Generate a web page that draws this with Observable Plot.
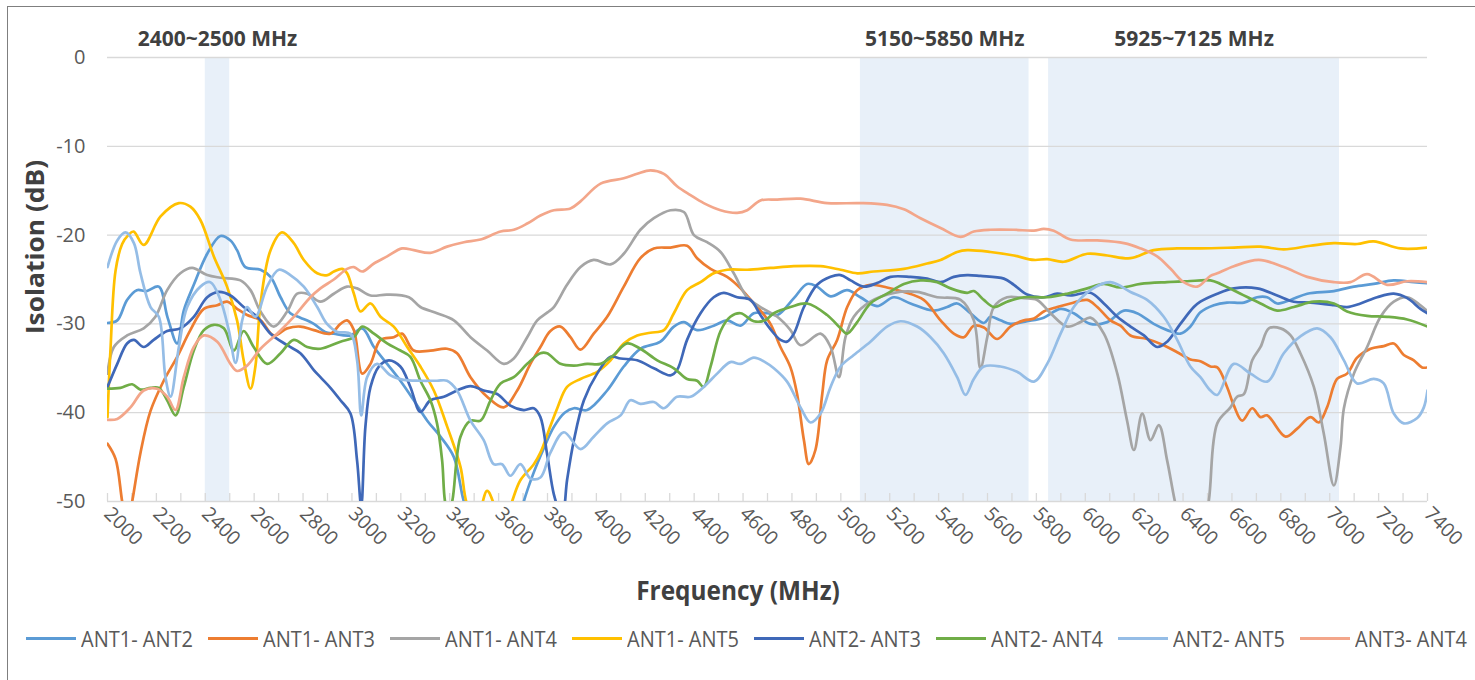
<!DOCTYPE html>
<html><head><meta charset="utf-8">
<script src="https://cdn.jsdelivr.net/npm/d3@7"></script>
<script src="https://cdn.jsdelivr.net/npm/@observablehq/plot@0.6"></script>
<style>
body{margin:0;background:#fff;}
#wrap{position:relative;width:1475px;height:680px;overflow:hidden;font-family:"Open Sans",sans-serif;}
#chart{position:absolute;left:0;top:0;}
#frame{position:absolute;left:7px;top:6px;width:2000px;height:1000px;border:1.5px solid #7f7f7f;box-sizing:border-box;pointer-events:none;}
.ttl{position:absolute;font-weight:bold;font-size:24.4px;color:#404040;white-space:nowrap;transform:translate(-50%,-50%) scaleY(1.08);}
#ytitle{left:34px;top:247px;transform:translate(-50%,-50%) rotate(-90deg) scaleX(1.08);}
#xtitle{left:738px;top:590px;}
.leg{position:absolute;top:638px;height:0;display:flex;align-items:center;font-size:20px;color:#595959;white-space:nowrap;}
.leg .sw{width:50px;height:3px;margin-right:5px;}
.leg .tx{display:inline-block;transform:scaleY(1.1);}
</style></head>
<body><div id="wrap"><div id="chart"></div><div id="frame"></div>
<div id="ytitle" class="ttl">Isolation (dB)</div>
<div id="xtitle" class="ttl">Frequency (MHz)</div>
<div id="legend"></div></div>
<script>
const seriesNames = ["ANT1- ANT2","ANT1- ANT3","ANT1- ANT4","ANT1- ANT5","ANT2- ANT3","ANT2- ANT4","ANT2- ANT5","ANT3- ANT4"];
const seriesColors = ["#5b9bd5","#ed7d31","#a5a5a5","#ffc000","#3f68b8","#70ad47","#95bde6","#f3a68a"];
const xTicks = d3.range(2000, 7401, 200);
const minorTicks = d3.range(2000, 7401, 100);
const yTicks = [0, -10, -20, -30, -40, -50];
const bandLabels = ["2400~2500 MHz", "5150~5850 MHz", "5925~7125 MHz"];
const bandStart = [2400, 5080, 5850];
const bandEnd = [2500, 5770, 7040];

const ant1ant2 = [[2000,-29.9],[2040,-29.6],[2080,-27.3],[2120,-26.2],[2160,-26.3],[2210,-25.8],[2245,-29.2],[2285,-32.2],[2312,-28.5],[2353,-25.6],[2408,-22.1],[2462,-20.1],[2503,-20.6],[2530,-21.7],[2564,-23.6],[2626,-23.9],[2667,-24.7],[2708,-27.0],[2748,-28.8],[2789,-29.3],[2844,-30.0],[2890,-30.9],[2926,-31.1],[2994,-31.3],[3042,-30.5],[3090,-32.6],[3144,-34.5],[3198,-36.4],[3253,-38.6],[3308,-40.9],[3362,-42.7],[3417,-45.0],[3458,-50],[3500,-53],[3600,-56],[3680,-53],[3700,-50.3],[3740,-47],[3785,-44],[3826,-41.6],[3870,-40],[3908,-39.5],[3962,-39.7],[4044,-37.5],[4112,-34.8],[4180,-32.8],[4262,-32.0],[4317,-30.3],[4358,-29.8],[4412,-30.7],[4480,-30.2],[4535,-29.6],[4590,-30.2],[4644,-28.8],[4700,-28.8],[4740,-29.0],[4808,-27.1],[4862,-25.5],[4903,-25.8],[4958,-26.9],[5026,-26.2],[5080,-27.0],[5148,-28.0],[5217,-27.0],[5285,-27.7],[5380,-28.5],[5435,-28.1],[5476,-27.7],[5530,-28.8],[5585,-29.9],[5612,-29.2],[5653,-29.6],[5694,-30.0],[5762,-29.7],[5830,-29.3],[5899,-28.3],[5953,-28.8],[6021,-30.0],[6090,-29.8],[6158,-28.5],[6212,-28.8],[6280,-30.0],[6335,-30.7],[6389,-31.1],[6430,-30.3],[6471,-28.7],[6526,-27.9],[6580,-27.6],[6649,-27.6],[6703,-27.0],[6744,-27.0],[6785,-27.7],[6840,-27.3],[6908,-26.6],[7017,-26.3],[7099,-25.8],[7180,-25.5],[7262,-25.1],[7344,-25.3],[7400,-25.4]];

const ant1ant3 = [[2000,-43.5],[2033,-45.2],[2060,-50],[2080,-53],[2101,-50],[2135,-44.5],[2176,-39.8],[2230,-36.4],[2285,-33.7],[2339,-30.7],[2394,-28.3],[2449,-27.9],[2489,-27.5],[2530,-28.3],[2571,-29.0],[2626,-29.6],[2680,-31.3],[2735,-30.5],[2789,-30.3],[2844,-30.7],[2912,-31.1],[2953,-30.0],[2980,-29.6],[3008,-30.7],[3042,-35.6],[3076,-34.5],[3117,-31.8],[3171,-31.5],[3205,-31.1],[3253,-33.0],[3321,-33.0],[3389,-32.8],[3430,-33.3],[3485,-36.0],[3553,-38.2],[3621,-39.4],[3676,-37.5],[3730,-34.5],[3771,-32.6],[3812,-30.8],[3853,-30.3],[3894,-31.5],[3935,-32.9],[3989,-31.1],[4044,-29.2],[4112,-25.8],[4180,-22.6],[4235,-21.5],[4303,-21.4],[4371,-21.2],[4412,-22.6],[4467,-23.8],[4535,-24.7],[4590,-26.0],[4644,-27.7],[4671,-28.5],[4712,-30.0],[4753,-32.6],[4794,-34.9],[4821,-37.9],[4849,-43.1],[4869,-45.8],[4896,-44.2],[4924,-37.9],[4944,-34.1],[4985,-31.8],[5026,-28.1],[5067,-26.2],[5121,-25.6],[5189,-25.9],[5258,-26.4],[5339,-27.3],[5408,-29.6],[5462,-31.1],[5503,-31.5],[5544,-30.2],[5585,-30.4],[5640,-31.7],[5694,-30.3],[5749,-29.6],[5790,-29.4],[5830,-28.6],[5885,-28.1],[5939,-27.7],[6008,-27.3],[6049,-28.1],[6103,-29.6],[6144,-30.2],[6185,-31.3],[6253,-31.7],[6321,-32.4],[6376,-33.2],[6430,-34.0],[6471,-34.2],[6512,-34.8],[6540,-34.9],[6580,-37.1],[6608,-39.2],[6642,-40.9],[6683,-39.5],[6717,-40.5],[6744,-40.3],[6819,-42.7],[6867,-41.8],[6921,-40.5],[6955,-41.1],[6989,-39.4],[7030,-36.2],[7071,-35.6],[7112,-33.8],[7167,-32.8],[7221,-32.5],[7262,-32.2],[7303,-33.5],[7344,-34.1],[7378,-34.9],[7400,-34.9]];

const ant1ant4 = [[2000,-35.6],[2026,-32.6],[2080,-31.3],[2148,-30.5],[2196,-29.2],[2244,-26.2],[2298,-24.3],[2346,-23.7],[2408,-24.5],[2462,-24.8],[2544,-25.1],[2585,-26.2],[2626,-28.6],[2680,-30.3],[2735,-28.6],[2776,-26.6],[2817,-26.6],[2871,-27.5],[2926,-26.6],[2980,-25.8],[3021,-26.0],[3076,-26.8],[3144,-26.7],[3233,-27.0],[3280,-28.1],[3348,-28.8],[3417,-29.6],[3485,-31.5],[3553,-33.0],[3621,-34.5],[3662,-33.9],[3717,-31.5],[3758,-29.6],[3800,-28.7],[3826,-28.1],[3880,-25.6],[3935,-23.6],[3989,-22.8],[4058,-23.3],[4112,-22.1],[4180,-19.4],[4235,-18.1],[4303,-17.2],[4358,-17.4],[4399,-20.0],[4453,-20.8],[4508,-21.9],[4562,-24.3],[4617,-27.0],[4671,-28.1],[4740,-29.2],[4794,-30.7],[4835,-32.4],[4917,-31.1],[4958,-32.6],[4992,-36.0],[5019,-31.5],[5053,-29.2],[5121,-27.5],[5217,-26.5],[5312,-26.4],[5394,-27.0],[5490,-27.3],[5544,-29.6],[5571,-35.0],[5599,-31.5],[5626,-28.1],[5680,-27.0],[5749,-27.1],[5803,-27.3],[5858,-28.8],[5926,-30.3],[5980,-29.8],[6021,-29.3],[6076,-31.1],[6131,-35.6],[6171,-40.9],[6199,-44.2],[6233,-40.1],[6267,-43.1],[6301,-41.4],[6335,-45.4],[6369,-50.3],[6420,-56],[6470,-55],[6505,-50],[6540,-41.2],[6594,-39.4],[6621,-38.2],[6649,-37.9],[6683,-34.1],[6717,-32.6],[6751,-30.5],[6799,-30.5],[6840,-31.3],[6880,-33.3],[6935,-37.1],[6976,-42.4],[7017,-48.2],[7044,-43.9],[7058,-39.5],[7099,-35.6],[7153,-32.6],[7208,-29.2],[7262,-27.5],[7317,-27.0],[7371,-27.9],[7400,-28.6]];

const ant1ant5 = [[2000,-40.5],[2012,-33],[2033,-24],[2060,-21],[2085,-20],[2107,-19.6],[2148,-21.1],[2217,-17.9],[2292,-16.4],[2339,-16.8],[2380,-18.3],[2435,-22.4],[2489,-25.8],[2530,-29.6],[2557,-34.1],[2585,-37.3],[2605,-34.8],[2626,-27.7],[2667,-21.7],[2714,-19.7],[2762,-20.9],[2803,-22.8],[2858,-24.3],[2900,-24.5],[2926,-24.1],[2960,-23.8],[2980,-24.3],[3008,-26.6],[3035,-28.6],[3076,-27.7],[3117,-29.2],[3171,-30.3],[3226,-32.6],[3280,-34.8],[3335,-37.5],[3390,-41.6],[3444,-46.1],[3471,-50.3],[3510,-52],[3553,-48.8],[3590,-51],[3620,-53],[3655,-50],[3689,-47.6],[3744,-45.8],[3771,-44.5],[3812,-41.5],[3840,-39.5],[3880,-37.1],[3935,-36.2],[4003,-35.4],[4058,-34.1],[4112,-32.2],[4167,-31.3],[4221,-31.0],[4276,-30.7],[4317,-28.8],[4371,-26.2],[4426,-25.3],[4480,-24.3],[4535,-23.9],[4617,-23.9],[4712,-23.7],[4808,-23.5],[4917,-23.5],[4999,-23.9],[5067,-24.3],[5135,-24.1],[5258,-23.8],[5353,-23.2],[5408,-22.8],[5476,-21.9],[5517,-21.7],[5612,-21.9],[5708,-22.3],[5790,-22.8],[5844,-22.7],[5912,-23.0],[6008,-22.1],[6090,-22.3],[6185,-22.6],[6280,-21.7],[6376,-21.5],[6471,-21.5],[6608,-21.4],[6717,-21.3],[6812,-21.6],[6921,-21.2],[7017,-20.9],[7112,-21.0],[7180,-20.7],[7289,-21.5],[7400,-21.4]];

const ant2ant3 = [[2000,-37.1],[2040,-34.5],[2080,-32.2],[2108,-31.8],[2148,-32.6],[2189,-31.8],[2244,-30.8],[2298,-30.5],[2353,-29.2],[2408,-27.0],[2455,-26.4],[2503,-26.8],[2557,-28.1],[2612,-29.2],[2667,-31.1],[2735,-32.4],[2789,-33.3],[2844,-35.2],[2871,-36.0],[2912,-37.2],[2953,-38.6],[2994,-40.1],[3021,-45.4],[3038,-50.5],[3055,-41.6],[3076,-37.1],[3110,-34.8],[3151,-34.1],[3198,-34.8],[3239,-37.1],[3280,-39.9],[3321,-38.6],[3376,-38.2],[3430,-37.5],[3485,-37.0],[3539,-37.5],[3594,-37.9],[3648,-39.2],[3703,-39.7],[3744,-39.5],[3771,-40.5],[3798,-44.6],[3826,-49.2],[3846,-50.8],[3862,-51.2],[3880,-47.6],[3908,-43.1],[3949,-38.6],[4003,-35.6],[4058,-33.7],[4099,-33.9],[4167,-34.1],[4235,-35.0],[4303,-35.8],[4330,-35.2],[4371,-31.8],[4426,-28.8],[4480,-27.0],[4521,-26.5],[4576,-27.0],[4630,-27.3],[4671,-29.0],[4712,-30.6],[4753,-31.8],[4780,-32.0],[4808,-31.1],[4849,-28.1],[4903,-25.6],[4958,-24.7],[4999,-24.5],[5040,-25.1],[5094,-25.8],[5148,-25.4],[5203,-24.7],[5285,-24.7],[5353,-24.9],[5408,-25.3],[5462,-24.7],[5517,-24.5],[5571,-24.6],[5667,-24.9],[5708,-25.6],[5762,-26.7],[5830,-27.0],[5885,-26.6],[5939,-26.8],[6021,-26.5],[6076,-27.7],[6131,-29.2],[6185,-30.3],[6240,-31.3],[6294,-32.6],[6335,-32.0],[6389,-30.0],[6444,-28.1],[6471,-27.5],[6540,-26.6],[6608,-26.0],[6703,-26.0],[6785,-26.8],[6853,-27.5],[6921,-27.6],[7017,-27.9],[7071,-28.1],[7126,-27.7],[7194,-27.0],[7262,-26.6],[7317,-27.1],[7371,-28.3],[7400,-28.8]];

const ant2ant4 = [[2000,-37.3],[2053,-37.2],[2101,-36.8],[2135,-37.4],[2176,-37.2],[2210,-37.2],[2244,-38.6],[2278,-40.3],[2312,-37.1],[2353,-33.0],[2394,-30.7],[2435,-30.1],[2476,-30.5],[2517,-33.0],[2557,-30.8],[2598,-32.6],[2653,-34.5],[2708,-33.3],[2762,-31.8],[2817,-32.6],[2871,-32.8],[2953,-32.0],[3008,-31.5],[3042,-30.3],[3090,-31.1],[3144,-32.2],[3198,-33.0],[3239,-33.7],[3280,-36.4],[3321,-38.6],[3348,-41.2],[3369,-45.4],[3383,-50.3],[3396,-51],[3410,-50],[3444,-42.7],[3485,-40.9],[3526,-40.9],[3567,-38.6],[3608,-36.7],[3662,-36.0],[3717,-34.5],[3771,-33.3],[3798,-33.3],[3853,-34.5],[3908,-34.7],[3962,-34.5],[4017,-34.5],[4071,-33.5],[4126,-32.2],[4180,-32.8],[4249,-34.1],[4317,-35.0],[4371,-36.2],[4412,-36.4],[4439,-37.1],[4467,-34.8],[4508,-30.8],[4548,-29.2],[4590,-28.8],[4644,-29.7],[4690,-29.6],[4726,-28.8],[4794,-28.1],[4862,-27.7],[4944,-29.0],[4999,-30.5],[5026,-31.1],[5067,-29.8],[5121,-27.7],[5189,-26.6],[5258,-25.5],[5326,-25.1],[5394,-25.3],[5449,-26.0],[5517,-26.5],[5544,-26.3],[5585,-27.3],[5626,-28.1],[5680,-27.5],[5749,-27.0],[5844,-27.0],[5926,-26.6],[6008,-26.0],[6076,-25.5],[6144,-25.9],[6226,-25.5],[6335,-25.3],[6417,-25.2],[6512,-25.1],[6553,-25.5],[6635,-26.6],[6717,-27.7],[6785,-28.5],[6853,-28.1],[6935,-27.5],[7017,-27.7],[7071,-28.6],[7153,-29.1],[7235,-29.2],[7317,-29.5],[7400,-30.3]];

const ant2ant5 = [[2000,-23.6],[2040,-20.6],[2074,-19.7],[2108,-20.9],[2135,-24.3],[2176,-28.1],[2210,-29.2],[2237,-36.0],[2258,-38.2],[2292,-32.6],[2326,-28.1],[2380,-25.8],[2421,-25.3],[2462,-27.3],[2496,-30.7],[2524,-34.4],[2551,-29.6],[2571,-28.1],[2605,-29.2],[2653,-25.8],[2701,-23.9],[2748,-24.5],[2803,-25.8],[2858,-28.1],[2898,-30.0],[2940,-30.9],[2994,-31.1],[3021,-34.1],[3038,-40.3],[3062,-36.0],[3103,-34.5],[3158,-35.8],[3212,-36.3],[3280,-36.4],[3348,-36.4],[3389,-36.4],[3430,-37.5],[3485,-40.9],[3539,-43.1],[3580,-45.8],[3614,-45.8],[3648,-47.1],[3689,-45.8],[3730,-47.4],[3771,-47.3],[3812,-44.5],[3867,-42.2],[3935,-44.1],[3989,-42.7],[4044,-41.2],[4099,-40.3],[4139,-38.6],[4180,-39.0],[4235,-38.8],[4276,-39.5],[4330,-38.2],[4385,-38.2],[4439,-37.1],[4494,-35.6],[4548,-34.3],[4590,-34.5],[4644,-33.8],[4690,-34.3],[4726,-35.0],[4780,-36.5],[4835,-39.4],[4876,-41.1],[4917,-40.1],[4958,-37.1],[4999,-34.8],[5053,-33.5],[5121,-32.0],[5189,-30.3],[5244,-29.7],[5312,-30.3],[5367,-31.5],[5421,-33.3],[5476,-36.0],[5510,-38.0],[5544,-36.2],[5585,-34.8],[5653,-34.8],[5721,-35.4],[5790,-36.5],[5844,-34.5],[5899,-31.1],[5953,-28.1],[6021,-26.2],[6103,-25.3],[6185,-26.4],[6253,-27.3],[6321,-29.2],[6376,-31.8],[6430,-34.8],[6471,-36.0],[6512,-37.5],[6540,-38.0],[6608,-34.5],[6676,-35.6],[6744,-36.5],[6812,-33.3],[6880,-31.4],[6949,-30.5],[7003,-31.5],[7058,-34.1],[7112,-36.7],[7180,-36.2],[7221,-36.7],[7262,-40.1],[7303,-41.2],[7358,-40.6],[7385,-39.4],[7400,-37.5]];

const ant3ant4 = [[2000,-40.8],[2040,-40.7],[2094,-39.4],[2148,-37.5],[2203,-37.3],[2244,-38.2],[2278,-39.7],[2312,-36.0],[2353,-32.6],[2394,-31.3],[2449,-32.0],[2503,-34.5],[2530,-35.3],[2571,-34.7],[2626,-32.8],[2694,-31.1],[2762,-29.2],[2830,-27.0],[2871,-26.0],[2926,-25.0],[2980,-23.8],[3008,-23.6],[3042,-24.1],[3090,-23.2],[3144,-22.4],[3205,-21.5],[3253,-21.7],[3321,-22.0],[3389,-21.3],[3458,-20.8],[3526,-20.5],[3608,-19.6],[3662,-19.4],[3717,-18.7],[3771,-17.8],[3826,-17.2],[3894,-17.0],[3935,-16.2],[4017,-14.2],[4112,-13.6],[4167,-13.1],[4221,-12.7],[4276,-13.1],[4330,-14.5],[4385,-15.5],[4439,-16.4],[4508,-17.2],[4576,-17.5],[4617,-17.2],[4671,-16.1],[4740,-16.0],[4835,-15.9],[4944,-16.4],[5080,-16.4],[5189,-16.6],[5258,-17.1],[5326,-18.1],[5408,-19.2],[5490,-20.2],[5544,-19.6],[5612,-19.4],[5708,-19.4],[5790,-19.5],[5830,-19.3],[5871,-19.5],[5939,-20.5],[6049,-20.6],[6158,-20.9],[6226,-21.5],[6294,-22.4],[6349,-23.8],[6403,-25.3],[6458,-25.8],[6512,-24.6],[6540,-24.3],[6608,-23.5],[6710,-22.8],[6812,-23.6],[6908,-24.7],[7017,-25.3],[7085,-25.3],[7153,-24.4],[7235,-25.6],[7317,-25.2],[7400,-25.3]];

const seriesData = [ant1ant2, ant1ant3, ant1ant4, ant1ant5, ant2ant3, ant2ant4, ant2ant5, ant3ant4];

const rows = seriesData.flatMap((pts, i) => pts.map(([f, v]) => ({series: seriesNames[i], f, v})));
const bands = bandLabels.map((label, i) => ({label, start: bandStart[i], end: bandEnd[i]}));

const chart = Plot.plot({
  width: 1475, height: 680,
  marginLeft: 107, marginRight: 48, marginTop: 57, marginBottom: 179,
  style: {fontFamily: "'Open Sans', sans-serif", fontSize: "20px", color: "#595959", background: "transparent", overflow: "visible"},
  x: {domain: [2000, 7400]},
  y: {domain: [-50, 0]},
  color: {domain: seriesNames, range: seriesColors},
  marks: [
    Plot.rect(bands, {x1: "start", x2: "end", fill: "#e8f0f9"}),
    Plot.ruleY(yTicks, {stroke: "#d9d9d9", strokeWidth: 1.3}),
    Plot.tickX(minorTicks, {x: d => d, stroke: "#d9d9d9", strokeWidth: 1.3, insetTop: 436}),
    Plot.axisY({ticks: yTicks, tickSize: 0, tickPadding: 22, tickFormat: d => String(d), fontSize: 20, label: null}),
    Plot.axisX({ticks: xTicks, tickSize: 0, tickPadding: 9, tickRotate: 45, tickFormat: d => String(d), fontSize: 19.5, label: null}),
    Plot.line(rows, {x: "f", y: "v", z: "series", stroke: "series", curve: "catmull-rom", strokeWidth: 2.7, clip: true}),
    Plot.text(bands, {x: d => (d.start + d.end) / 2, text: "label", frameAnchor: "top", lineAnchor: "middle", dy: -18, fontWeight: "bold", fontSize: 21, fill: "#404040"})
  ]
});
document.getElementById("chart").appendChild(chart);

const legend = document.getElementById("legend");
seriesNames.forEach((name, i) => {
  const item = document.createElement("div");
  item.className = "leg";
  item.style.left = (26 + i * 182) + "px";
  item.innerHTML = `<span class="sw" style="background:${seriesColors[i]}"></span><span class="tx">${name}</span>`;
  legend.appendChild(item);
});
</script></body></html>
